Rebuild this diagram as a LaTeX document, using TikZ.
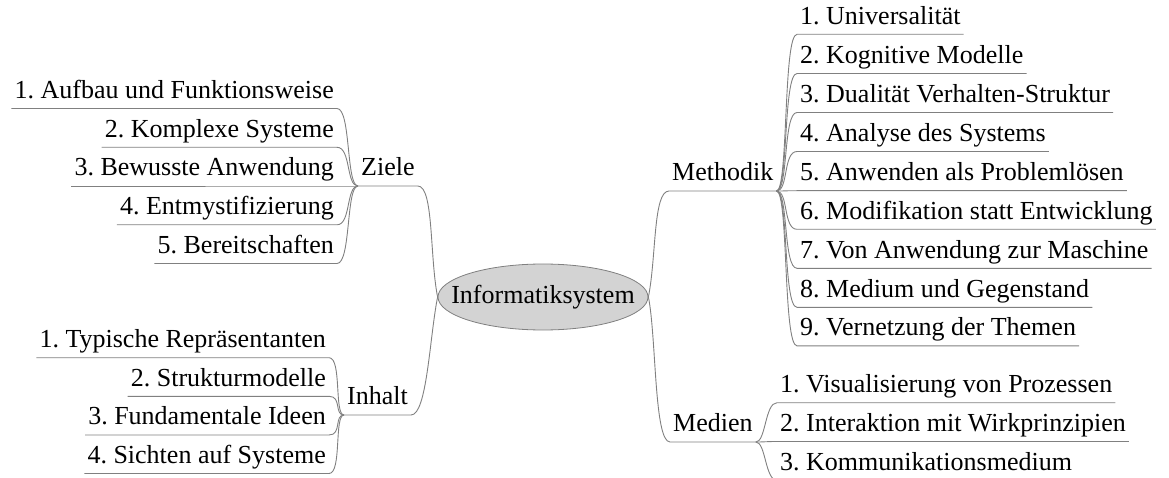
\documentclass[tikz,border=0pt]{standalone}
\usepackage{fontspec}
\setmainfont{Liberation Serif}
\usetikzlibrary{shapes.geometric}
\definecolor{linegray}{RGB}{128,128,128}
\definecolor{hubfill}{RGB}{211,211,211}
\frenchspacing
\begin{document}
\begin{tikzpicture}[x=1pt,y=-1pt,
  every node/.style={font=\fontsize{26}{30}\selectfont},
  topic/.style={inner xsep=3pt,inner ysep=0pt,text height=18pt,text depth=10pt},
  hub/.style={ellipse,draw=linegray,fill=hubfill,line width=0.8pt,
    minimum width=210pt,minimum height=66pt,inner xsep=-18pt,inner ysep=0pt},
  conn/.style={draw=linegray,line width=0.9pt}]
\useasboundingbox (0,0) rectangle (1169,478);

% central topic
\node[hub] (center) at (543,297) {Informatiksystem};

% main branches
\node[topic,anchor=south west] (ziele)    at (358,186) {Ziele};
\node[topic,anchor=south west] (inhalt)   at (344,415) {Inhalt};
\node[topic,anchor=south west] (methodik) at (669,191) {Methodik};
\node[topic,anchor=south west] (medien)   at (670,442) {Medien};

\draw[conn] (center.west) .. controls +(-8,-40) and +(16,0) .. (ziele.south east) -- (ziele.south west);
\draw[conn] (center.west) .. controls +(-8,40) and +(16,0) .. (inhalt.south east) -- (inhalt.south west);
\draw[conn] (center.east) .. controls +(8,-40) and +(-16,0) .. (methodik.south west) -- (methodik.south east);
\draw[conn] (center.east) .. controls +(8,40) and +(-16,0) .. (medien.south west) -- (medien.south east);

% Ziele
\node[topic,anchor=south east] (z1) at (337,108.5) {1. Aufbau und Funktionsweise};
\node[topic,anchor=south east] (z2) at (337,147.3) {2. Komplexe Systeme};
\node[topic,anchor=south east] (z3) at (337,186)   {3. Bewusste Anwendung};
\node[topic,anchor=south east] (z4) at (337,224.8) {4. Entmystifizierung};
\node[topic,anchor=south east] (z5) at (337,263.5) {5. Bereitschaften};
\foreach \c in {z1,z2,z3,z4,z5}
  \draw[conn] (ziele.south west) .. controls +(-12,0) and +(14,0) .. (\c.south east) -- (\c.south west);

% Inhalt
\node[topic,anchor=south east] (i1) at (329,357.7) {1. Typische Repräsentanten};
\node[topic,anchor=south east] (i2) at (329,396.3) {2. Strukturmodelle};
\node[topic,anchor=south east] (i3) at (329,435)   {3. Fundamentale Ideen};
\node[topic,anchor=south east] (i4) at (329,473.5) {4. Sichten auf Systeme};
\foreach \c in {i1,i2,i3,i4}
  \draw[conn] (inhalt.south west) .. controls +(-10,0) and +(13,0) .. (\c.south east) -- (\c.south west);

% Methodik
\node[topic,anchor=south west] (m1) at (797,34.3)  {1. Universalität};
\node[topic,anchor=south west] (m2) at (797,73.5)  {2. Kognitive Modelle};
\node[topic,anchor=south west] (m3) at (797,112.5) {3. Dualität Verhalten-Struktur};
\node[topic,anchor=south west] (m4) at (797,151.5) {4. Analyse des Systems};
\node[topic,anchor=south west] (m5) at (797,190.7) {5. Anwenden als Problemlösen};
\node[topic,anchor=south west] (m6) at (797,229.3) {6. Modifikation statt Entwicklung};
\node[topic,anchor=south west] (m7) at (797,268.3) {7. Von Anwendung zur Maschine};
\node[topic,anchor=south west] (m8) at (797,307.3) {8. Medium und Gegenstand};
\node[topic,anchor=south west] (m9) at (797,345.9) {9. Vernetzung der Themen};
\foreach \c in {m1,m2,m3,m4,m5,m6,m7,m8,m9}
  \draw[conn] (methodik.south east) .. controls +(12,0) and +(-14,0) .. (\c.south west) -- (\c.south east);

% Medien
\node[topic,anchor=south west] (d1) at (777,402.7) {1. Visualisierung von Prozessen};
\node[topic,anchor=south west] (d2) at (777,441.5) {2. Interaktion mit Wirkprinzipien};
\node[topic,anchor=south west] (d3) at (777,480.3) {3. Kommunikationsmedium};
\foreach \c in {d1,d2,d3}
  \draw[conn] (medien.south east) .. controls +(10,0) and +(-12,0) .. (\c.south west) -- (\c.south east);
\end{tikzpicture}
\end{document}
